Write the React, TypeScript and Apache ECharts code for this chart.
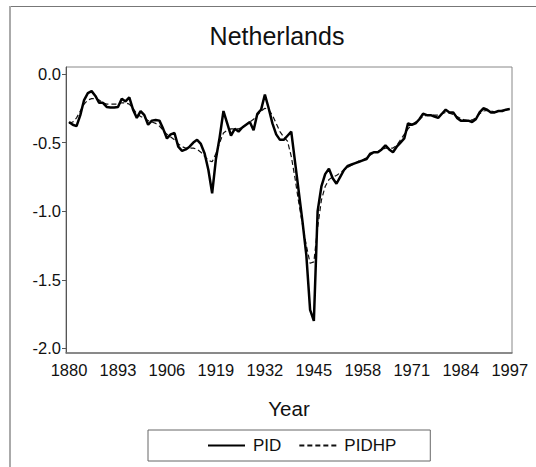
import React, { useEffect, useRef } from "react";
import * as echarts from "echarts";

const startYear = 1880;

// PID (solid), annual values 1880–1997
const pid: number[] = [
  -0.35, -0.37, -0.38, -0.30, -0.19, -0.14, -0.125, -0.16, -0.21, -0.21,
  -0.24, -0.245, -0.245, -0.24, -0.18, -0.20, -0.17, -0.26, -0.32, -0.27,
  -0.30, -0.37, -0.34, -0.335, -0.34, -0.40, -0.47, -0.44, -0.43, -0.53,
  -0.56, -0.55, -0.53, -0.50, -0.48, -0.51, -0.58, -0.70, -0.87, -0.62,
  -0.46, -0.27, -0.36, -0.45, -0.40, -0.42, -0.39, -0.37, -0.35, -0.41,
  -0.29, -0.26, -0.15, -0.25, -0.36, -0.44, -0.48, -0.48, -0.45, -0.42,
  -0.64, -0.86, -1.08, -1.32, -1.72, -1.80, -1.00, -0.82, -0.73, -0.69,
  -0.76, -0.80, -0.75, -0.70, -0.67, -0.66, -0.65, -0.64, -0.63, -0.62,
  -0.58, -0.57, -0.57, -0.55, -0.52, -0.55, -0.57, -0.53, -0.50, -0.47,
  -0.36, -0.37, -0.36, -0.33, -0.29, -0.30, -0.30, -0.31, -0.32, -0.29,
  -0.26, -0.28, -0.28, -0.32, -0.34, -0.34, -0.34, -0.35, -0.33, -0.28,
  -0.25, -0.26, -0.28, -0.28, -0.27, -0.27, -0.26, -0.255,
];

// PIDHP (dashed, smoothed trend), annual values 1880–1997
const pidhp: number[] = [
  -0.36, -0.35, -0.32, -0.27, -0.22, -0.19, -0.18, -0.18, -0.19, -0.21,
  -0.22, -0.22, -0.22, -0.22, -0.21, -0.21, -0.22, -0.25, -0.29, -0.31,
  -0.32, -0.34, -0.35, -0.36, -0.38, -0.41, -0.44, -0.46, -0.48, -0.51,
  -0.53, -0.54, -0.54, -0.54, -0.55, -0.57, -0.60, -0.63, -0.64, -0.58,
  -0.50, -0.43, -0.41, -0.40, -0.40, -0.40, -0.39, -0.37, -0.35, -0.33,
  -0.30, -0.27, -0.25, -0.26, -0.30, -0.36, -0.42, -0.46, -0.49, -0.60,
  -0.76, -0.94, -1.10, -1.25, -1.38, -1.37, -1.12, -0.92, -0.82, -0.77,
  -0.75, -0.74, -0.72, -0.70, -0.68, -0.665, -0.65, -0.635, -0.625, -0.61,
  -0.59, -0.575, -0.565, -0.55, -0.54, -0.54, -0.54, -0.52, -0.48, -0.44,
  -0.40, -0.37, -0.35, -0.33, -0.31, -0.30, -0.30, -0.30, -0.30, -0.29,
  -0.28, -0.285, -0.295, -0.31, -0.325, -0.335, -0.34, -0.335, -0.32, -0.29,
  -0.27, -0.265, -0.27, -0.275, -0.27, -0.265, -0.26, -0.255,
];

const xTickLabels: number[] = [1880, 1893, 1906, 1919, 1932, 1945, 1958, 1971, 1984, 1997];
const yTickLabels: number[] = [0.0, -0.5, -1.0, -1.5, -2.0];

const FONT = 'Arial, "Liberation Sans", sans-serif';

export default function App() {
  const ref = useRef<HTMLDivElement>(null);

  useEffect(() => {
    document.body.style.margin = "0";
    if (!ref.current) return;
    const chart = echarts.init(ref.current, undefined, { renderer: "svg" });

    const pidData = pid.map((v, i) => [startYear + i, v]);
    const hpData = pidhp.map((v, i) => [startYear + i, v]);

    chart.setOption({
      animation: false,
      backgroundColor: "#ffffff",
      title: {
        text: "Netherlands",
        left: 277,
        textAlign: "center",
        top: 23,
        padding: 0,
        textStyle: {
          fontFamily: FONT,
          fontSize: 25,
          fontWeight: "normal",
          color: "#111",
          lineHeight: 26,
        },
      },
      graphic: [
        {
          type: "line",
          shape: { x1: 10, y1: 6.5, x2: 536, y2: 6.5 },
          style: { stroke: "#777", lineWidth: 1 },
          silent: true,
        },
        {
          type: "line",
          shape: { x1: 10, y1: 6, x2: 10, y2: 467 },
          style: { stroke: "#aaa", lineWidth: 2 },
          silent: true,
        },
      ],
      grid: {
        left: 66,
        top: 67,
        right: 24,
        bottom: 114,
        show: true,
        borderColor: "#888",
        borderWidth: 1,
        containLabel: false,
      },
      legend: {
        data: ["PID", "PIDHP"],
        left: 148,
        top: 430,
        orient: "horizontal",
        padding: [7, 34, 7, 59],
        itemGap: 17,
        itemWidth: 37,
        itemHeight: 18,
        borderColor: "#666",
        borderWidth: 1,
        itemStyle: { opacity: 0, borderWidth: 0 },
        textStyle: {
          fontFamily: FONT,
          fontSize: 17,
          color: "#111",
          padding: [0, 0, 0, 3],
        },
      },
      xAxis: {
        type: "value",
        min: 1879.2,
        max: 1997.6,
        name: "Year",
        nameLocation: "middle",
        nameGap: 45,
        nameTextStyle: { fontFamily: FONT, fontSize: 20.5, color: "#111" },
        axisLine: { show: true, onZero: false, lineStyle: { color: "#777", width: 1.5 } },
        axisTick: { show: false },
        splitLine: { show: false },
        axisLabel: {
          customValues: xTickLabels,
          fontFamily: FONT,
          fontSize: 16.5,
          color: "#111",
          margin: 8,
          formatter: (v: number) => String(Math.round(v)),
        },
      },
      yAxis: {
        type: "value",
        min: -2.034,
        max: 0.051,
        axisLine: { show: true, onZero: false, lineStyle: { color: "#555", width: 1 } },
        axisTick: {
          show: true,
          customValues: yTickLabels,
          length: 4,
          lineStyle: { color: "#555" },
        },
        splitLine: { show: false },
        axisLabel: {
          customValues: yTickLabels,
          fontFamily: FONT,
          fontSize: 16.5,
          color: "#111",
          margin: 5,
          formatter: (v: number) => v.toFixed(1),
        },
      },
      series: [
        {
          name: "PID",
          type: "line",
          data: pidData,
          showSymbol: false,
          symbol: "none",
          z: 3,
          lineStyle: { color: "#000", width: 2.5, type: "solid" },
          itemStyle: { color: "#000" },
        },
        {
          name: "PIDHP",
          type: "line",
          data: hpData,
          showSymbol: false,
          symbol: "none",
          z: 2,
          lineStyle: { color: "#111", width: 1.2, type: [5, 3] },
          itemStyle: { color: "#111" },
        },
      ],
    });

    return () => chart.dispose();
  }, []);

  return <div ref={ref} style={{ width: 536, height: 467 }} />;
}
